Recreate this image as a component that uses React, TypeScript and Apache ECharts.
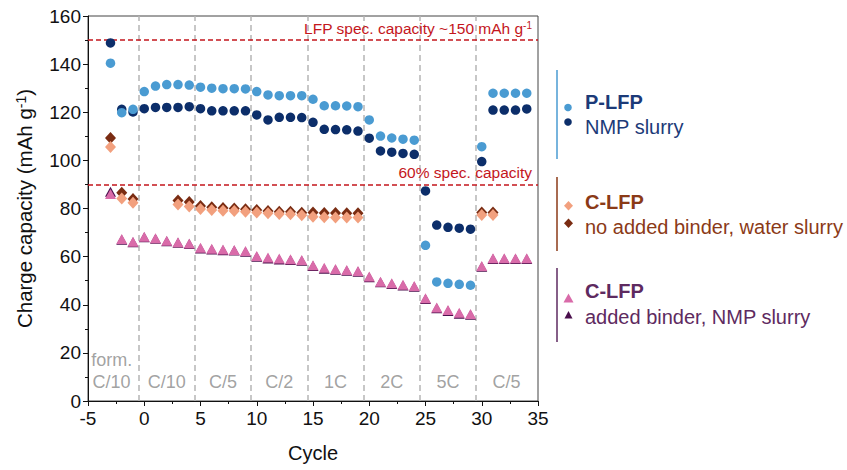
import React, { useEffect, useRef } from "react";
import * as echarts from "echarts";

const cycles = [-3, -2, -1, 0, 1, 2, 3, 4, 5, 6, 7, 8, 9, 10, 11, 12, 13, 14, 15, 16, 17, 18, 19, 20, 21, 22, 23, 24, 25, 26, 27, 28, 29, 30, 31, 32, 33, 34];

const pLfpLight = [140.4, 119.8, 121.2, 128.6, 130.9, 131.5, 131.5, 131.3, 130.4, 130.0, 129.8, 129.8, 129.7, 128.6, 127.2, 126.9, 126.9, 126.9, 125.4, 122.7, 122.7, 122.6, 122.3, 116.8, 110.1, 109.3, 108.8, 108.4, 64.7, 49.5, 48.9, 48.5, 48.1, 105.7, 127.9, 127.9, 127.9, 127.9];
const pLfpDark = [148.8, 121.2, 120.1, 121.5, 122.0, 122.0, 122.0, 122.3, 121.5, 120.6, 120.6, 120.6, 120.6, 118.9, 116.8, 117.9, 117.9, 117.8, 115.8, 112.9, 112.8, 112.7, 112.2, 109.2, 103.9, 103.4, 102.9, 102.5, 87.3, 73.1, 72.2, 71.8, 71.4, 99.5, 120.9, 120.9, 120.9, 121.4];
const cLfpWaterLight = [105.6, 84.2, 82.4, null, null, null, 81.7, 80.8, 79.8, 79.4, 79.1, 79.0, 78.7, 78.3, 78.0, 77.7, 77.6, 77.2, 76.6, 76.4, 76.3, 76.3, 76.3, null, null, null, null, null, null, null, null, null, null, 77.3, 77.3, null, null, null];
const cLfpWaterDark = [109.3, 86.5, 84.0, null, null, null, 83.3, 82.7, 81.0, 80.5, 80.2, 80.0, 79.7, 79.4, 79.0, 78.7, 78.6, 78.2, 78.3, 78.1, 78.1, 78.0, 78.0, null, null, null, null, null, null, null, null, null, null, 78.3, 78.3, null, null, null];
const cLfpNmpLight = [86.0, 67.3, 66.2, 68.3, 67.6, 66.6, 66.0, 65.5, 63.7, 63.3, 63.0, 62.8, 62.3, 60.3, 59.6, 59.2, 58.9, 58.6, 56.4, 55.4, 54.9, 54.4, 54.0, 51.7, 49.6, 48.9, 48.3, 47.8, 42.7, 38.9, 37.8, 36.7, 36.2, 56.1, 59.3, 59.3, 59.3, 59.3];
const cLfpNmpDark = [87.0, 67.0, 66.0, 68.1, 67.4, 66.4, 65.8, 65.2, 63.4, 63.0, 62.7, 62.5, 62.0, 60.0, 59.2, 58.8, 58.6, 58.3, 56.1, 55.0, 54.5, 54.1, 53.7, 51.4, 49.3, 48.6, 48.0, 47.5, 42.4, 38.5, 37.4, 36.3, 35.8, 55.8, 59.0, 59.0, 59.0, 59.0];

const rateLabels = ["form.\nC/10", "C/10", "C/5", "C/2", "1C", "2C", "5C", "C/5"];
const rateLabelX = [-2.9, 2, 7, 12, 17, 22, 27, 32.2];
const rateLabelY = [12.5, 8, 8, 8, 8, 8, 8, 8];
const rateBoundaries = [-0.5, 4.5, 9.5, 14.5, 19.5, 24.5, 29.5];
const refLines = [150, 90];
const refLabels = ["LFP spec. capacity ~150 mAh g{sup|-1}", "60% spec. capacity"];

const xTicks = { min: -5, max: 35, interval: 5 };
const yTicks = { min: 0, max: 160, interval: 20 };

const FONT = "Liberation Sans, Arial, sans-serif";

function pairs(vals: (number | null)[]) {
  const out: [number, number][] = [];
  cycles.forEach((c, i) => {
    const v = vals[i];
    if (v !== null && v !== undefined) out.push([c, v]);
  });
  return out;
}

export default function App() {
  const ref = useRef<HTMLDivElement>(null);
  useEffect(() => {
    if (!ref.current) return;
    const chart = echarts.init(ref.current, null, { renderer: "svg" });
    const C = {
      lb: "#4a9bd2",
      db: "#0c2e6a",
      lo: "#f2a07e",
      dbr: "#7a2c12",
      pk: "#d96ba9",
      dp: "#4a0f4c",
    };
    const scatter = (name: string, vals: (number | null)[], symbol: string, size: any, color: string) => ({
      name,
      type: "scatter",
      data: pairs(vals),
      symbol,
      symbolSize: size,
      itemStyle: { color, opacity: 1 },
      z: 5,
      silent: true,
    });
    const legendText = (x: number, y: number, text: string, color: string, bold: boolean) => ({
      type: "text",
      x,
      y,
      style: {
        text,
        fill: color,
        font: `${bold ? "bold " : ""}20px ${FONT}`,
        textVerticalAlign: "middle",
        textAlign: "left",
      },
    });
    const option: any = {
      animation: false,
      textStyle: { fontFamily: FONT },
      grid: {
        left: 88,
        right: 309,
        top: 16,
        bottom: 69,
        show: true,
        borderColor: "#444",
        borderWidth: 1,
        backgroundColor: "transparent",
      },
      xAxis: {
        type: "value",
        min: xTicks.min,
        max: xTicks.max,
        interval: xTicks.interval,
        name: "Cycle",
        nameLocation: "middle",
        nameGap: 42,
        nameTextStyle: { fontSize: 20, color: "#111", fontFamily: FONT },
        axisLine: { show: true, onZero: false, lineStyle: { color: "#111", width: 1 } },
        axisTick: { show: true, inside: false, length: 5, lineStyle: { color: "#111" } },
        minorTick: { show: true, splitNumber: 2, length: 3, lineStyle: { color: "#111" } },
        axisLabel: { fontSize: 19, color: "#111", margin: 8, fontFamily: FONT },
        splitLine: { show: false },
      },
      yAxis: {
        type: "value",
        min: yTicks.min,
        max: yTicks.max,
        interval: yTicks.interval,
        name: "Charge capacity (mAh g{sup|-1})",
        nameLocation: "middle",
        nameGap: 53,
        nameRotate: 90,
        nameTextStyle: {
          fontSize: 20.5,
          color: "#111",
          fontFamily: FONT,
          rich: {
            sup: { fontSize: 14, verticalAlign: "top", lineHeight: 20, color: "#111", fontFamily: FONT },
          },
        },
        axisLine: { show: true, onZero: false, lineStyle: { color: "#111", width: 1 } },
        axisTick: { show: true, inside: false, length: 5, lineStyle: { color: "#111" } },
        minorTick: { show: true, splitNumber: 2, length: 3, lineStyle: { color: "#111" } },
        axisLabel: { fontSize: 19, color: "#111", margin: 7, fontFamily: FONT },
        splitLine: { show: false },
      },
      series: [
        {
          name: "rates",
          type: "scatter",
          symbolSize: 0,
          silent: true,
          z: 2,
          data: rateLabels.map((t, i) => ({ value: [rateLabelX[i], rateLabelY[i]], label: { formatter: t } })),
          label: {
            show: true,
            position: "inside",
            fontSize: 18,
            color: "#8a8a8a",
            lineHeight: 22,
            fontFamily: FONT,
            align: "center",
          },
          markLine: {
            silent: true,
            symbol: "none",
            z: 1,
            data: [
              ...rateBoundaries.map((x) => ({
                xAxis: x,
                lineStyle: { color: "#b5b5b5", type: [6, 4], width: 1.5 },
                label: { show: false },
              })),
              ...refLines.map((y, i) => ({
                yAxis: y,
                lineStyle: { color: "#c4161c", type: [5, 3], width: 1.5 },
                label: {
                  show: true,
                  position: "insideEndTop",
                  formatter: refLabels[i],
                  color: "#c4161c",
                  fontSize: 15.5,
                  fontFamily: FONT,
                  distance: [6, 4],
                  rich: {
                    sup: { fontSize: 10, verticalAlign: "top", lineHeight: 15, color: "#c4161c", fontFamily: FONT },
                  },
                },
              })),
            ],
          },
        },
        scatter("P-LFP dark", pLfpDark, "circle", 9.5, C.db),
        scatter("P-LFP light", pLfpLight, "circle", 9.5, C.lb),
        scatter("C-LFP water dark", cLfpWaterDark, "diamond", [11, 12], C.dbr),
        scatter("C-LFP water light", cLfpWaterLight, "diamond", [11, 12], C.lo),
        scatter("C-LFP NMP dark", cLfpNmpDark, "triangle", [11, 10], C.dp),
        scatter("C-LFP NMP light", cLfpNmpLight, "triangle", [11, 10], C.pk),
      ],
      graphic: [
        { type: "line", shape: { x1: 557, y1: 70, x2: 557, y2: 159 }, style: { stroke: C.lb, lineWidth: 1.5 } },
        { type: "circle", shape: { cx: 568, cy: 107.5, r: 3.8 }, style: { fill: C.lb } },
        { type: "circle", shape: { cx: 568, cy: 122, r: 3.8 }, style: { fill: C.db } },
        legendText(585, 101.5, "P-LFP", "#1c3a78", true),
        legendText(585, 126.5, "NMP slurry", "#1c3a78", false),

        { type: "line", shape: { x1: 557, y1: 177, x2: 557, y2: 251 }, style: { stroke: "#8b3a17", lineWidth: 1.5 } },
        { type: "polygon", shape: { points: [[568.5, 201], [573, 205.7], [568.5, 210.4], [564, 205.7]] }, style: { fill: C.lo } },
        { type: "polygon", shape: { points: [[568.5, 218.6], [573, 223.3], [568.5, 228], [564, 223.3]] }, style: { fill: C.dbr } },
        legendText(585, 201.5, "C-LFP", "#8b3a17", true),
        legendText(585, 226.5, "no added binder, water slurry", "#8b3a17", false),

        { type: "line", shape: { x1: 557, y1: 268, x2: 557, y2: 342 }, style: { stroke: "#5e2a60", lineWidth: 1.5 } },
        { type: "polygon", shape: { points: [[568.5, 293.5], [573.5, 302.5], [563.5, 302.5]] }, style: { fill: C.pk } },
        { type: "polygon", shape: { points: [[568.5, 311], [572.5, 318.5], [564.5, 318.5]] }, style: { fill: C.dp } },
        legendText(585, 290.5, "C-LFP", "#5e2a60", true),
        legendText(585, 316.5, "added binder, NMP slurry", "#5e2a60", false),
      ],
    };
    chart.setOption(option);
    return () => chart.dispose();
  }, []);
  return (
    <div
      ref={ref}
      style={{ position: "fixed", left: 0, top: 0, width: 847, height: 470, background: "#fff" }}
    />
  );
}
